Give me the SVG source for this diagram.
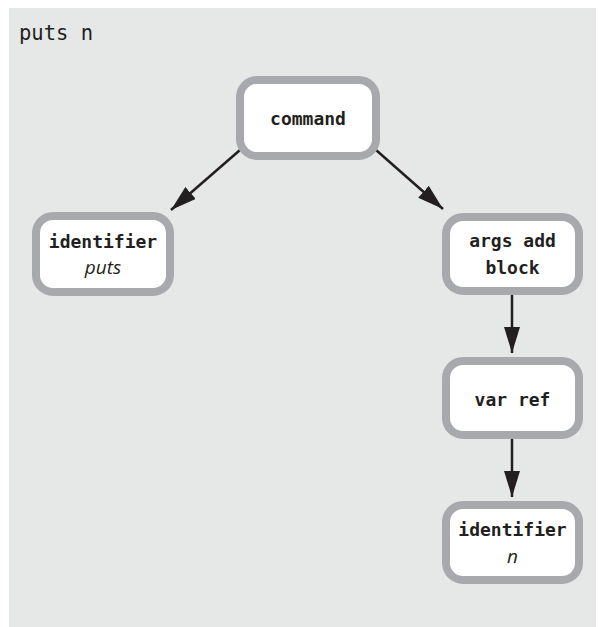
<svg xmlns="http://www.w3.org/2000/svg" width="598" height="627" viewBox="0 0 598 627">
<style>
.node rect{fill:#ffffff;stroke:#a7a9ac;stroke-width:8}
.lbl{font-family:"DejaVu Sans Mono","Liberation Mono",monospace;font-weight:bold;font-size:18px;fill:#231f20;text-anchor:middle}
.it{font-family:"Open Sans","Liberation Sans",sans-serif;font-style:italic;font-size:19px;fill:#231f20;text-anchor:middle}
.edge{stroke:#231f20;stroke-width:2.5;fill:none;marker-end:url(#ah)}
</style>
<defs>
<marker id="ah" markerUnits="userSpaceOnUse" markerWidth="28" markerHeight="18" refX="26" refY="8" orient="auto">
<path d="M0,0 L26,8 L0,16 Z" fill="#231f20"/>
</marker>
</defs>
<rect x="9" y="8" width="587" height="619" fill="#e6e7e7"/>
<text x="19" y="40" font-family="'DejaVu Sans Mono','Liberation Mono',monospace" font-size="20.5" fill="#231f20">puts n</text>
<g id="connectors">
<line class="edge" x1="240" y1="150" x2="171" y2="210"/>
<line class="edge" x1="376" y1="150" x2="443" y2="209"/>
<line class="edge" x1="512" y1="295" x2="512" y2="353"/>
<line class="edge" x1="512" y1="439" x2="512" y2="497"/>
</g>
<g id="command" class="node">
<rect x="240" y="80" width="136" height="76" rx="17"/>
<text class="lbl" x="308" y="125">command</text>
</g>
<g id="identifier-puts" class="node">
<rect x="36" y="216" width="134" height="76" rx="17"/>
<text class="lbl" x="103" y="248">identifier</text>
<text class="it" x="103" y="274">puts</text>
</g>
<g id="args-add-block" class="node">
<rect x="446" y="217" width="133" height="74" rx="17"/>
<text class="lbl" x="512.5" y="247">args add</text>
<text class="lbl" x="512.5" y="274">block</text>
</g>
<g id="var-ref" class="node">
<rect x="446" y="361" width="133" height="74" rx="17"/>
<text class="lbl" x="512.5" y="406">var ref</text>
</g>
<g id="identifier-n" class="node">
<rect x="446" y="505" width="133" height="75" rx="17"/>
<text class="lbl" x="512.5" y="536">identifier</text>
<text class="it" x="512.5" y="563">n</text>
</g>
</svg>
